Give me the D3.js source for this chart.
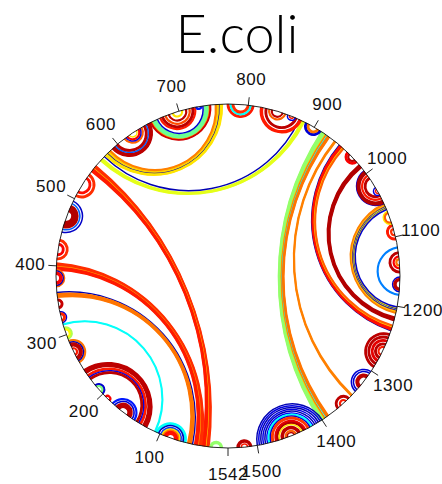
<!DOCTYPE html>
<html>
<head>
<meta charset="utf-8">
<script src="https://cdn.jsdelivr.net/npm/d3@7"></script>
<style>
  html, body { margin: 0; padding: 0; background: #fff; }
  svg { display: block; }
</style>
</head>
<body>
<svg id="chart" width="442" height="484"></svg>
<script>
// 16S rRNA base-pair circle plot: every base pair is an arc orthogonal to the
// backbone circle, coloured by its pairing probability.
const title = "E.coli";
const seqLength = 1542;
const tickValues = [100, 200, 300, 400, 500, 600, 700, 800, 900, 1000, 1100, 1200, 1300, 1400, 1500, 1542];

// Stems: [5' start, 3' end, stacked pairs, pairing probability]
const domain5 = [
  [8, 26, 4, 0.52],
  [27, 556, 5, 0.83], [32, 551, 1, 0.68], [33, 550, 5, 0.85],
  [38, 404, 5, 0.83], [43, 399, 1, 0.72], [44, 398, 5, 0.85],
  [51, 362, 1, 0.05], [53, 360, 6, 0.76],
  [61, 106, 4, 0.38], [65, 102, 1, 0.06], [68, 99, 2, 0.18], [70, 97, 2, 0.65], [72, 95, 2, 0.76], [74, 93, 5, 0.86],
  [107, 316, 2, 0.38],
  [121, 244, 7, 0.94], [130, 235, 3, 0.85], [134, 231, 1, 0.1], [136, 229, 3, 0.94],
  [141, 181, 2, 0.15], [145, 177, 1, 0.08], [148, 174, 7, 0.94],
  [186, 195, 2, 0.88],
  [200, 217, 3, 0.08], [203, 214, 2, 0.5],
  [256, 291, 2, 0.76], [259, 288, 1, 0.05], [261, 286, 5, 0.94], [268, 279, 2, 0.85],
  [293, 311, 3, 0.55], [296, 308, 2, 0.63],
  [318, 334, 1, 0.08], [320, 332, 3, 0.84],
  [339, 352, 3, 0.93],
  [370, 395, 2, 0.78], [372, 393, 1, 0.06], [374, 391, 4, 0.88],
  [409, 438, 3, 0.83], [415, 432, 3, 0.88],
  [449, 496, 1, 0.07], [453, 492, 1, 0.22], [456, 489, 10, 0.95],
  [504, 541, 3, 0.83], [510, 535, 3, 0.86]
];

const central = [
  [566, 884, 5, 0.6], [574, 876, 1, 0.05],
  [576, 763, 5, 0.65], [581, 758, 1, 0.05], [582, 757, 3, 0.67], [585, 754, 2, 0.75],
  [590, 655, 5, 0.94], [596, 649, 1, 0.22], [598, 647, 3, 0.94],
  [612, 642, 2, 0.78], [615, 639, 1, 0.1], [617, 637, 2, 0.88], [621, 633, 1, 0.65],
  [656, 746, 3, 0.92], [659, 743, 1, 0.72], [660, 742, 6, 0.48], [667, 735, 1, 0.08],
  [671, 724, 2, 0.85], [674, 721, 3, 0.94], [679, 716, 2, 0.8], [684, 711, 2, 0.94], [690, 705, 2, 0.65],
  [725, 733, 2, 0.15],
  [770, 808, 3, 0.85], [774, 804, 2, 0.38], [777, 801, 3, 0.83],
  [818, 879, 4, 0.85], [825, 872, 3, 0.94], [830, 855, 2, 0.78], [834, 851, 2, 0.94],
  [858, 870, 1, 0.1], [861, 867, 1, 0.85],
  [886, 911, 3, 0.08], [890, 907, 3, 0.76]
];

const major3 = [
  [912, 1403, 7, 0.52], [919, 1396, 1, 0.68], [920, 1395, 1, 0.75], [922, 1393, 1, 0.38], [923, 1392, 4, 0.76],
  [935, 1346, 3, 0.75],
  [944, 1236, 1, 0.05], [945, 1235, 5, 0.86], [950, 1230, 1, 0.66], [951, 1229, 2, 0.78],
  [959, 979, 3, 0.88], [963, 975, 2, 0.94],
  [984, 1221, 6, 0.95],
  [995, 1050, 1, 0.08], [996, 1049, 5, 0.95], [1003, 1042, 2, 0.85], [1007, 1038, 3, 0.94],
  [1024, 1036, 1, 0.1], [1027, 1033, 1, 0.85],
  [1050, 1210, 3, 0.75], [1053, 1207, 1, 0.65], [1054, 1206, 1, 0.76], [1055, 1205, 1, 0.08],
  [1056, 1204, 1, 0.6], [1057, 1203, 1, 0.05], [1058, 1202, 1, 0.65], [1059, 1201, 1, 0.08],
  [1062, 1081, 2, 0.65], [1064, 1079, 2, 0.78],
  [1082, 1104, 3, 0.85], [1088, 1098, 2, 0.83],
  [1115, 1184, 2, 0.25],
  [1122, 1152, 3, 0.94], [1128, 1146, 2, 0.88], [1132, 1142, 2, 0.76],
  [1158, 1179, 1, 0.08], [1160, 1177, 4, 0.94],
  [1241, 1294, 3, 0.94], [1246, 1289, 3, 0.94], [1251, 1284, 3, 0.9], [1256, 1279, 3, 0.94], [1261, 1274, 2, 0.85],
  [1301, 1337, 1, 0.08], [1304, 1334, 1, 0.08], [1308, 1330, 5, 0.94],
  [1350, 1373, 3, 0.94], [1356, 1367, 2, 0.85]
];

const minor3 = [
  [1400, 1500, 1, 0.05], [1403, 1497, 1, 0.1], [1406, 1494, 1, 0.05], [1409, 1491, 1, 0.1],
  [1412, 1488, 1, 0.05], [1415, 1485, 1, 0.12], [1417, 1483, 2, 0.38], [1420, 1480, 1, 0.08],
  [1422, 1478, 3, 0.82], [1427, 1473, 3, 0.9], [1430, 1470, 2, 0.95], [1433, 1467, 1, 0.65],
  [1436, 1464, 4, 0.94], [1442, 1458, 2, 0.78], [1445, 1455, 1, 0.94],
  [1508, 1529, 4, 0.94], [1514, 1523, 1, 0.85]
];

const width = 442, height = 484;
const cx = 228, cy = 276, R = 172;

const svg = d3.select("#chart");

// nucleotide position -> angle, clockwise from the bottom of the circle
const angle = d3.scaleLinear().domain([0, seqLength]).range([0, 2 * Math.PI]);
const unit = p => { const a = angle(p); return [-Math.sin(a), Math.cos(a)]; };

// jet colour map for probabilities
const color = d3.scaleLinear()
  .domain([0, 0.125, 0.375, 0.625, 0.875, 1])
  .range(["#00007f", "#0000ff", "#00ffff", "#ffff00", "#ff0000", "#7f0000"])
  .interpolate(d3.interpolateRgb);

// expand stems into individual base pairs
const pairs = [];
[domain5, central, major3, minor3].forEach(group => {
  group.forEach(([i, j, n, p]) => {
    for (let k = 0; k < n; k++) pairs.push({ i: i + k, j: j - k, p });
  });
});

function arcPath(d) {
  const u1 = unit(d.i), u2 = unit(d.j);
  const x1 = cx + R * u1[0], y1 = cy + R * u1[1];
  const x2 = cx + R * u2[0], y2 = cy + R * u2[1];
  let delta = Math.abs(angle(d.j) - angle(d.i));
  if (delta > Math.PI) delta = 2 * Math.PI - delta;
  if (Math.abs(Math.PI - delta) < 1e-3) return `M${x1},${y1}L${x2},${y2}`;
  const mx = u1[0] + u2[0], my = u1[1] + u2[1];
  const ml = Math.hypot(mx, my);
  const dist = R / Math.cos(delta / 2);
  const ocx = cx + dist * mx / ml, ocy = cy + dist * my / ml;
  const r = R * Math.tan(delta / 2);
  const cross = (x2 - x1) * (ocy - y1) - (y2 - y1) * (ocx - x1);
  const sweep = cross > 0 ? 1 : 0;
  return `M${x1},${y1}A${r},${r} 0 0 ${sweep} ${x2},${y2}`;
}

// widest pairs first so the small hairpins sit on top
pairs.sort((a, b) => (b.j - b.i) - (a.j - a.i));

svg.append("g")
  .attr("fill", "none")
  .attr("stroke-width", 1.5)
  .selectAll("path")
  .data(pairs)
  .join("path")
  .attr("d", arcPath)
  .attr("stroke", d => color(d.p));

// backbone circle
svg.append("circle")
  .attr("cx", cx).attr("cy", cy).attr("r", R)
  .attr("fill", "none").attr("stroke", "#111").attr("stroke-width", 0.9);

// position ticks and labels
const ticks = svg.append("g");
ticks.selectAll("line")
  .data(tickValues)
  .join("line")
  .attr("x1", d => cx + R * unit(d)[0])
  .attr("y1", d => cy + R * unit(d)[1])
  .attr("x2", d => cx + (R + 8) * unit(d)[0])
  .attr("y2", d => cy + (R + 8) * unit(d)[1])
  .attr("stroke", "#111").attr("stroke-width", 0.9);

ticks.selectAll("text")
  .data(tickValues)
  .join("text")
  .attr("x", d => cx + (R + 26) * unit(d)[0])
  .attr("y", d => cy + (R + 26) * unit(d)[1])
  .attr("text-anchor", "middle")
  .attr("dominant-baseline", "central")
  .attr("font-family", "'Liberation Sans', Arial, sans-serif")
  .attr("font-size", 17)
  .attr("letter-spacing", 0.6)
  .attr("fill", "#111")
  .text(d => d);

svg.append("text")
  .attr("x", 237)
  .attr("y", 53)
  .attr("text-anchor", "middle")
  .attr("font-family", "Lato, 'Open Sans', sans-serif")
  .attr("font-weight", 300)
  .attr("font-size", 54)
  .attr("fill", "#000")
  .text(title);
</script>
</body>
</html>
